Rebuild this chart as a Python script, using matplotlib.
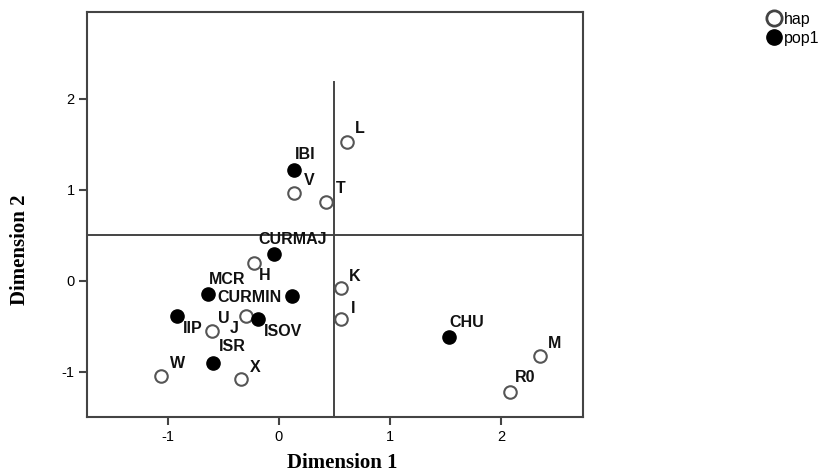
import matplotlib
matplotlib.use("Agg")
import matplotlib.pyplot as plt
from matplotlib.lines import Line2D

# ---- data ----
names = ["L", "IBI", "V", "T", "CURMAJ", "H", "MCR", "CURMIN", "K", "I",
         "IIP", "U", "J", "ISOV", "ISR", "W", "X", "CHU", "M", "R0"]
dim1 = [0.61, 0.14, 0.14, 0.42, -0.04, -0.22, -0.64, 0.12, 0.56, 0.56,
        -0.92, -0.60, -0.30, -0.19, -0.59, -1.06, -0.34, 1.53, 2.35, 2.08]
dim2 = [1.52, 1.22, 0.96, 0.87, 0.29, 0.20, -0.15, -0.17, -0.08, -0.42,
        -0.39, -0.55, -0.39, -0.42, -0.90, -1.05, -1.08, -0.62, -0.83, -1.22]
group = ["hap", "pop1", "hap", "hap", "pop1", "hap", "pop1", "pop1", "hap", "hap",
         "pop1", "hap", "hap", "pop1", "pop1", "hap", "hap", "pop1", "hap", "hap"]
xticks = [-1, 0, 1, 2]
yticks = [-1, 0, 1, 2]
ref_x = 0.5
ref_y = 0.5

# ---- label offsets (pixels: right, up) ----
label_off = {
    "L": (13, 14), "IBI": (11, 15), "V": (15, 13), "T": (15, 13),
    "CURMAJ": (18, 15), "H": (10, -13), "MCR": (19, 15), "CURMIN": (-43, -1),
    "K": (14, 12), "I": (12, 10), "IIP": (16, -12), "U": (12, 12),
    "J": (-11, -12), "ISOV": (25, -13), "ISR": (19, 16), "W": (16, 13),
    "X": (14, 12), "CHU": (18, 15), "M": (15, 13), "R0": (15, 14),
}

DPI = 100
fig = plt.figure(figsize=(8.28, 4.72), dpi=DPI)
ax = fig.add_axes([0.1054, 0.1159, 0.7045 - 0.1054, 0.974 - 0.1159])

edge = "#444444"
for xi, yi, g in zip(dim1, dim2, group):
    if g == "hap":
        ax.plot(xi, yi, marker="o", ms=9, mfc="white", mec="#555555", mew=1.5,
                ls="none", zorder=3)
    else:
        ax.plot(xi, yi, marker="o", ms=9.5, mfc="black", mec="black", mew=1,
                ls="none", zorder=3)

for n, xi, yi in zip(names, dim1, dim2):
    dx, dy = label_off[n]
    ax.annotate(n, (xi, yi), xytext=(dx * 0.72, dy * 0.72), textcoords="offset points",
                ha="center", va="center", fontsize=11.5, fontweight="bold",
                family="Liberation Sans", color="#111111", zorder=4)

ax.set_xlim(-1.725, 2.74)
ax.set_ylim(-1.50, 2.95)
ax.axhline(ref_y, color=edge, lw=1.4, zorder=2)
ax.plot([ref_x, ref_x], [-1.50, 2.18], color=edge, lw=1.4, zorder=2)

ax.set_xticks(xticks)
ax.set_yticks(yticks)
ax.set_xticklabels([str(t) for t in xticks], family="Liberation Sans", fontsize=10.5)
ax.set_yticklabels([str(t) for t in yticks], family="Liberation Sans", fontsize=10.5)
ax.tick_params(direction="out", length=6, width=1.5, color=edge, pad=3)
for s in ax.spines.values():
    s.set_color(edge)
    s.set_linewidth(1.5)

fig.text(342 / 828, 1 - 463 / 472, "Dimension 1", ha="center", va="center",
         family="Liberation Serif", fontweight="bold", fontsize=15)
fig.text(20 / 828, 1 - 250 / 472, "Dimension 2", ha="center", va="center",
         rotation=90, family="Liberation Serif", fontweight="bold", fontsize=15)

handles = [
    Line2D([], [], marker="o", ls="none", ms=11, mfc="white", mec="#444444", mew=2),
    Line2D([], [], marker="o", ls="none", ms=11, mfc="black", mec="black"),
]
fig.legend(handles, ["hap", "pop1"], loc="upper left", bbox_to_anchor=(766 / 828, 1 - 12 / 472),
           frameon=False, prop={"family": "Liberation Sans", "size": 11.5},
           handletextpad=0.15, labelspacing=0.25, borderpad=0, borderaxespad=0,
           handlelength=1.0)

fig.savefig("out.png", dpi=DPI)
